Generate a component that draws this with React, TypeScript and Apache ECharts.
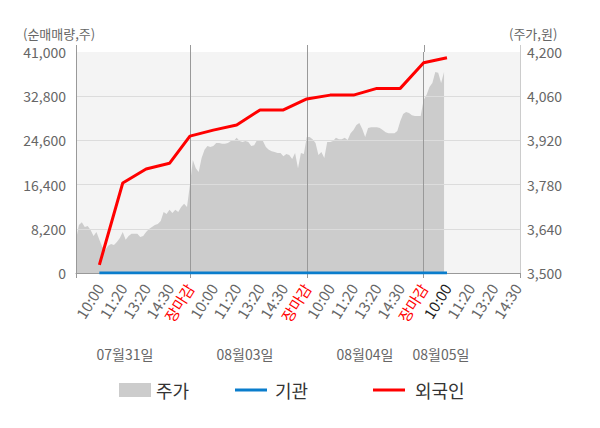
import React, { useEffect, useRef } from "react";
import * as echarts from "echarts";

// ---- data ----
const days = ["07월31일", "08월03일", "08월04일", "08월05일"];
const slotsPerDay = [39, 40, 40, 34];
const labelStep = 8;
const timeLabels = ["10:00", "11:20", "13:20", "14:30", "장마감"];

// 주가 (원), one value per slot
const price = [
  3605, 3652, 3661, 3646, 3649, 3636, 3617, 3630, 3605, 3582,
  3573, 3586, 3592, 3589, 3598, 3611, 3630, 3605, 3617, 3624,
  3624, 3624, 3614, 3617, 3630, 3639, 3646, 3652, 3655, 3665,
  3693, 3687, 3700, 3690, 3700, 3693, 3709, 3719, 3709,
  3779, 3858, 3832, 3820, 3864, 3890, 3902, 3899, 3902, 3912,
  3912, 3909, 3909, 3912, 3918, 3918, 3928, 3918, 3915, 3918,
  3915, 3902, 3905, 3921, 3921, 3918, 3899, 3890, 3886, 3883,
  3880, 3880, 3870, 3877, 3874, 3861, 3880, 3832, 3880, 3877,
  3931, 3931, 3924, 3912, 3874, 3883, 3864, 3915, 3915, 3918,
  3928, 3924, 3924, 3928, 3921, 3943, 3953, 3969, 3975, 3956,
  3931, 3959, 3962, 3962, 3962, 3959, 3953, 3946, 3943, 3943,
  3943, 3950, 3981, 4004, 4010, 4007, 4000, 3997, 3997, 3997,
  4048, 4064, 4089, 4102, 4137, 4134, 4102, 4137,
];

// 순매매량 (주) at each labelled time
const foreign = [
  1500, 16700, 19300, 20350, 25400,
  26500, 27450, 30250, 30250, 32300,
  33000, 33000, 34250, 34250, 39000,
  39950,
];
const institution = [
  0, 0, 0, 0, 0,
  0, 0, 0, 0, 0,
  0, 0, 0, 0, 0,
  0,
];

// ---- derived structures ----
const dayStarts: number[] = [];
{
  let s = 0;
  for (const n of slotsPerDay) {
    dayStarts.push(s);
    s += n;
  }
}
const totalSlots = slotsPerDay.reduce((a, b) => a + b, 0);
const categories: string[] = [];
slotsPerDay.forEach((n, d) => {
  for (let j = 0; j < n; j++) categories.push(`${days[d]} ${j}`);
});

// label slot -> text
const labelMap = new Map<number, string>();
const labelOrder: number[] = [];
dayStarts.forEach((s, d) => {
  const isLast = d === dayStarts.length - 1;
  for (let k = 1; k <= 4; k++) {
    const idx = s + k * labelStep;
    if (idx < totalSlots) {
      labelMap.set(idx, timeLabels[k - 1]);
      labelOrder.push(idx);
    }
  }
  if (!isLast) {
    const idx = dayStarts[d + 1];
    labelMap.set(idx, timeLabels[4]);
    labelOrder.push(idx);
  }
});
const currentIdx = dayStarts[dayStarts.length - 1] + labelStep;

function placeFlow(values: number[]) {
  const arr: (number | null)[] = new Array(totalSlots).fill(null);
  values.forEach((v, k) => {
    arr[labelOrder[k]] = v;
  });
  return arr;
}

const boundaries = [...dayStarts, totalSlots - 1];
const splitSet = new Set(dayStarts.slice(1));
const tickSet = new Set(boundaries);

const fmt = (v: number) => Math.round(v).toLocaleString("en-US");

export default function App() {
  const ref = useRef<HTMLDivElement>(null);
  useEffect(() => {
    document.body.style.margin = "0";
    const chart = echarts.init(ref.current!, null, { renderer: "svg" });
    const option: any = {
      animation: false,
      textStyle: { fontFamily: "Noto Sans CJK KR" },
      grid: {
        left: 76,
        right: 80,
        top: 52,
        bottom: 155,
        show: true,
        backgroundColor: "#f4f4f4",
        borderWidth: 0,
      },
      legend: [
        {
          data: [{ name: "주가", icon: "rect" }],
          left: 114,
          top: 376,
          itemWidth: 32,
          itemHeight: 14,
          selectedMode: false,
          textStyle: { fontSize: 18, color: "#333" },
        },
        {
          data: [{ name: "기관", icon: "rect" }],
          left: 230,
          top: 376,
          itemWidth: 32,
          itemHeight: 3,
          selectedMode: false,
          textStyle: { fontSize: 18, color: "#333", padding: [0, 0, 0, 3] },
        },
        {
          data: [{ name: "외국인", icon: "rect" }],
          left: 368,
          top: 376,
          itemWidth: 32,
          itemHeight: 3,
          selectedMode: false,
          textStyle: { fontSize: 18, color: "#333", padding: [0, 0, 0, 5] },
        },
      ],
      xAxis: {
        type: "category",
        data: categories,
        boundaryGap: false,
        z: 2,
        axisLine: { lineStyle: { color: "#999" } },
        axisTick: {
          show: true,
          length: 5,
          interval: (i: number) => tickSet.has(i),
          lineStyle: { color: "#999" },
        },
        splitLine: {
          show: true,
          interval: (i: number) => splitSet.has(i),
          lineStyle: { color: "#999", width: 1 },
        },
        axisLabel: {
          interval: (i: number) => labelMap.has(i),
          rotate: 58,
          margin: 12,
          fontSize: 15,
          color: "#666",
          formatter: (_v: string, i: number) => {
            const t = labelMap.get(i) || "";
            if (t === timeLabels[4]) return `{close|${t}}`;
            if (i === currentIdx) return `{now|${t}}`;
            return `{base|${t}}`;
          },
          rich: {
            base: { fontSize: 15, color: "#666" },
            close: { fontSize: 15, color: "#ff0000" },
            now: { fontSize: 15, color: "#222" },
          },
        },
      },
      yAxis: [
        {
          type: "value",
          position: "left",
          min: 0,
          max: 41000,
          interval: 8200,
          z: 2,
          axisLine: { show: true, lineStyle: { color: "#999" } },
          axisTick: { show: false },
          axisLabel: { fontSize: 14, color: "#666", margin: 10, formatter: fmt },
          splitLine: {
            show: true,
            showMaxLine: false,
            lineStyle: { color: "#dcdcdc", width: 1 },
          },
        },
        {
          type: "value",
          position: "right",
          min: 3500,
          max: 4200,
          interval: 140,
          z: 2,
          axisLine: { show: true, lineStyle: { color: "#cccccc" } },
          axisTick: { show: false },
          axisLabel: { fontSize: 14, color: "#666", margin: 7, formatter: fmt },
          splitLine: { show: false },
        },
      ],
      series: [
        {
          name: "주가",
          type: "line",
          yAxisIndex: 1,
          data: price,
          symbol: "none",
          z: 1,
          itemStyle: { color: "#cccccc" },
          lineStyle: { width: 0, color: "#cccccc" },
          areaStyle: { color: "#cccccc", opacity: 1 },
        },
        {
          name: "기관",
          type: "line",
          yAxisIndex: 0,
          data: placeFlow(institution),
          connectNulls: true,
          symbol: "none",
          z: 3,
          itemStyle: { color: "#0a7dcc" },
          lineStyle: { width: 3, color: "#0a7dcc" },
        },
        {
          name: "외국인",
          type: "line",
          yAxisIndex: 0,
          data: placeFlow(foreign),
          connectNulls: true,
          symbol: "none",
          z: 4,
          itemStyle: { color: "#ff0000" },
          lineStyle: { width: 3, color: "#ff0000" },
        },
      ],
    };
    chart.setOption(option);

    const gridTop = 52;
    const ext = 7;
    const lines = boundaries.map((i, k) => {
      const x = Math.round(chart.convertToPixel({ xAxisIndex: 0 }, categories[i]) as number) + 0.5;
      return {
        type: "line",
        shape: { x1: x, y1: gridTop - ext, x2: x, y2: gridTop },
        style: { stroke: k === boundaries.length - 1 ? "#cccccc" : "#999", lineWidth: 1 },
        silent: true,
      };
    });
    const dateX = [125, 245, 365, 441];
    const dateTexts = days.map((d, k) => ({
      type: "text",
      x: dateX[k],
      y: 354,
      style: {
        text: d,
        fill: "#666",
        fontSize: 14,
        fontFamily: "Noto Sans CJK KR",
        align: "center",
        verticalAlign: "middle",
      },
      silent: true,
    }));
    const names = [
      { text: "(순매매량,주)", x: 23 },
      { text: "(주가,원)", x: 509 },
    ].map((n) => ({
      type: "text",
      x: n.x,
      y: 33,
      style: {
        text: n.text,
        fill: "#666",
        fontSize: 13,
        fontFamily: "Noto Sans CJK KR",
        align: "left",
        verticalAlign: "middle",
      },
      silent: true,
    }));
    chart.setOption({ graphic: [...lines, ...dateTexts, ...names] });

    return () => chart.dispose();
  }, []);
  return <div ref={ref} style={{ width: 600, height: 428 }} />;
}
